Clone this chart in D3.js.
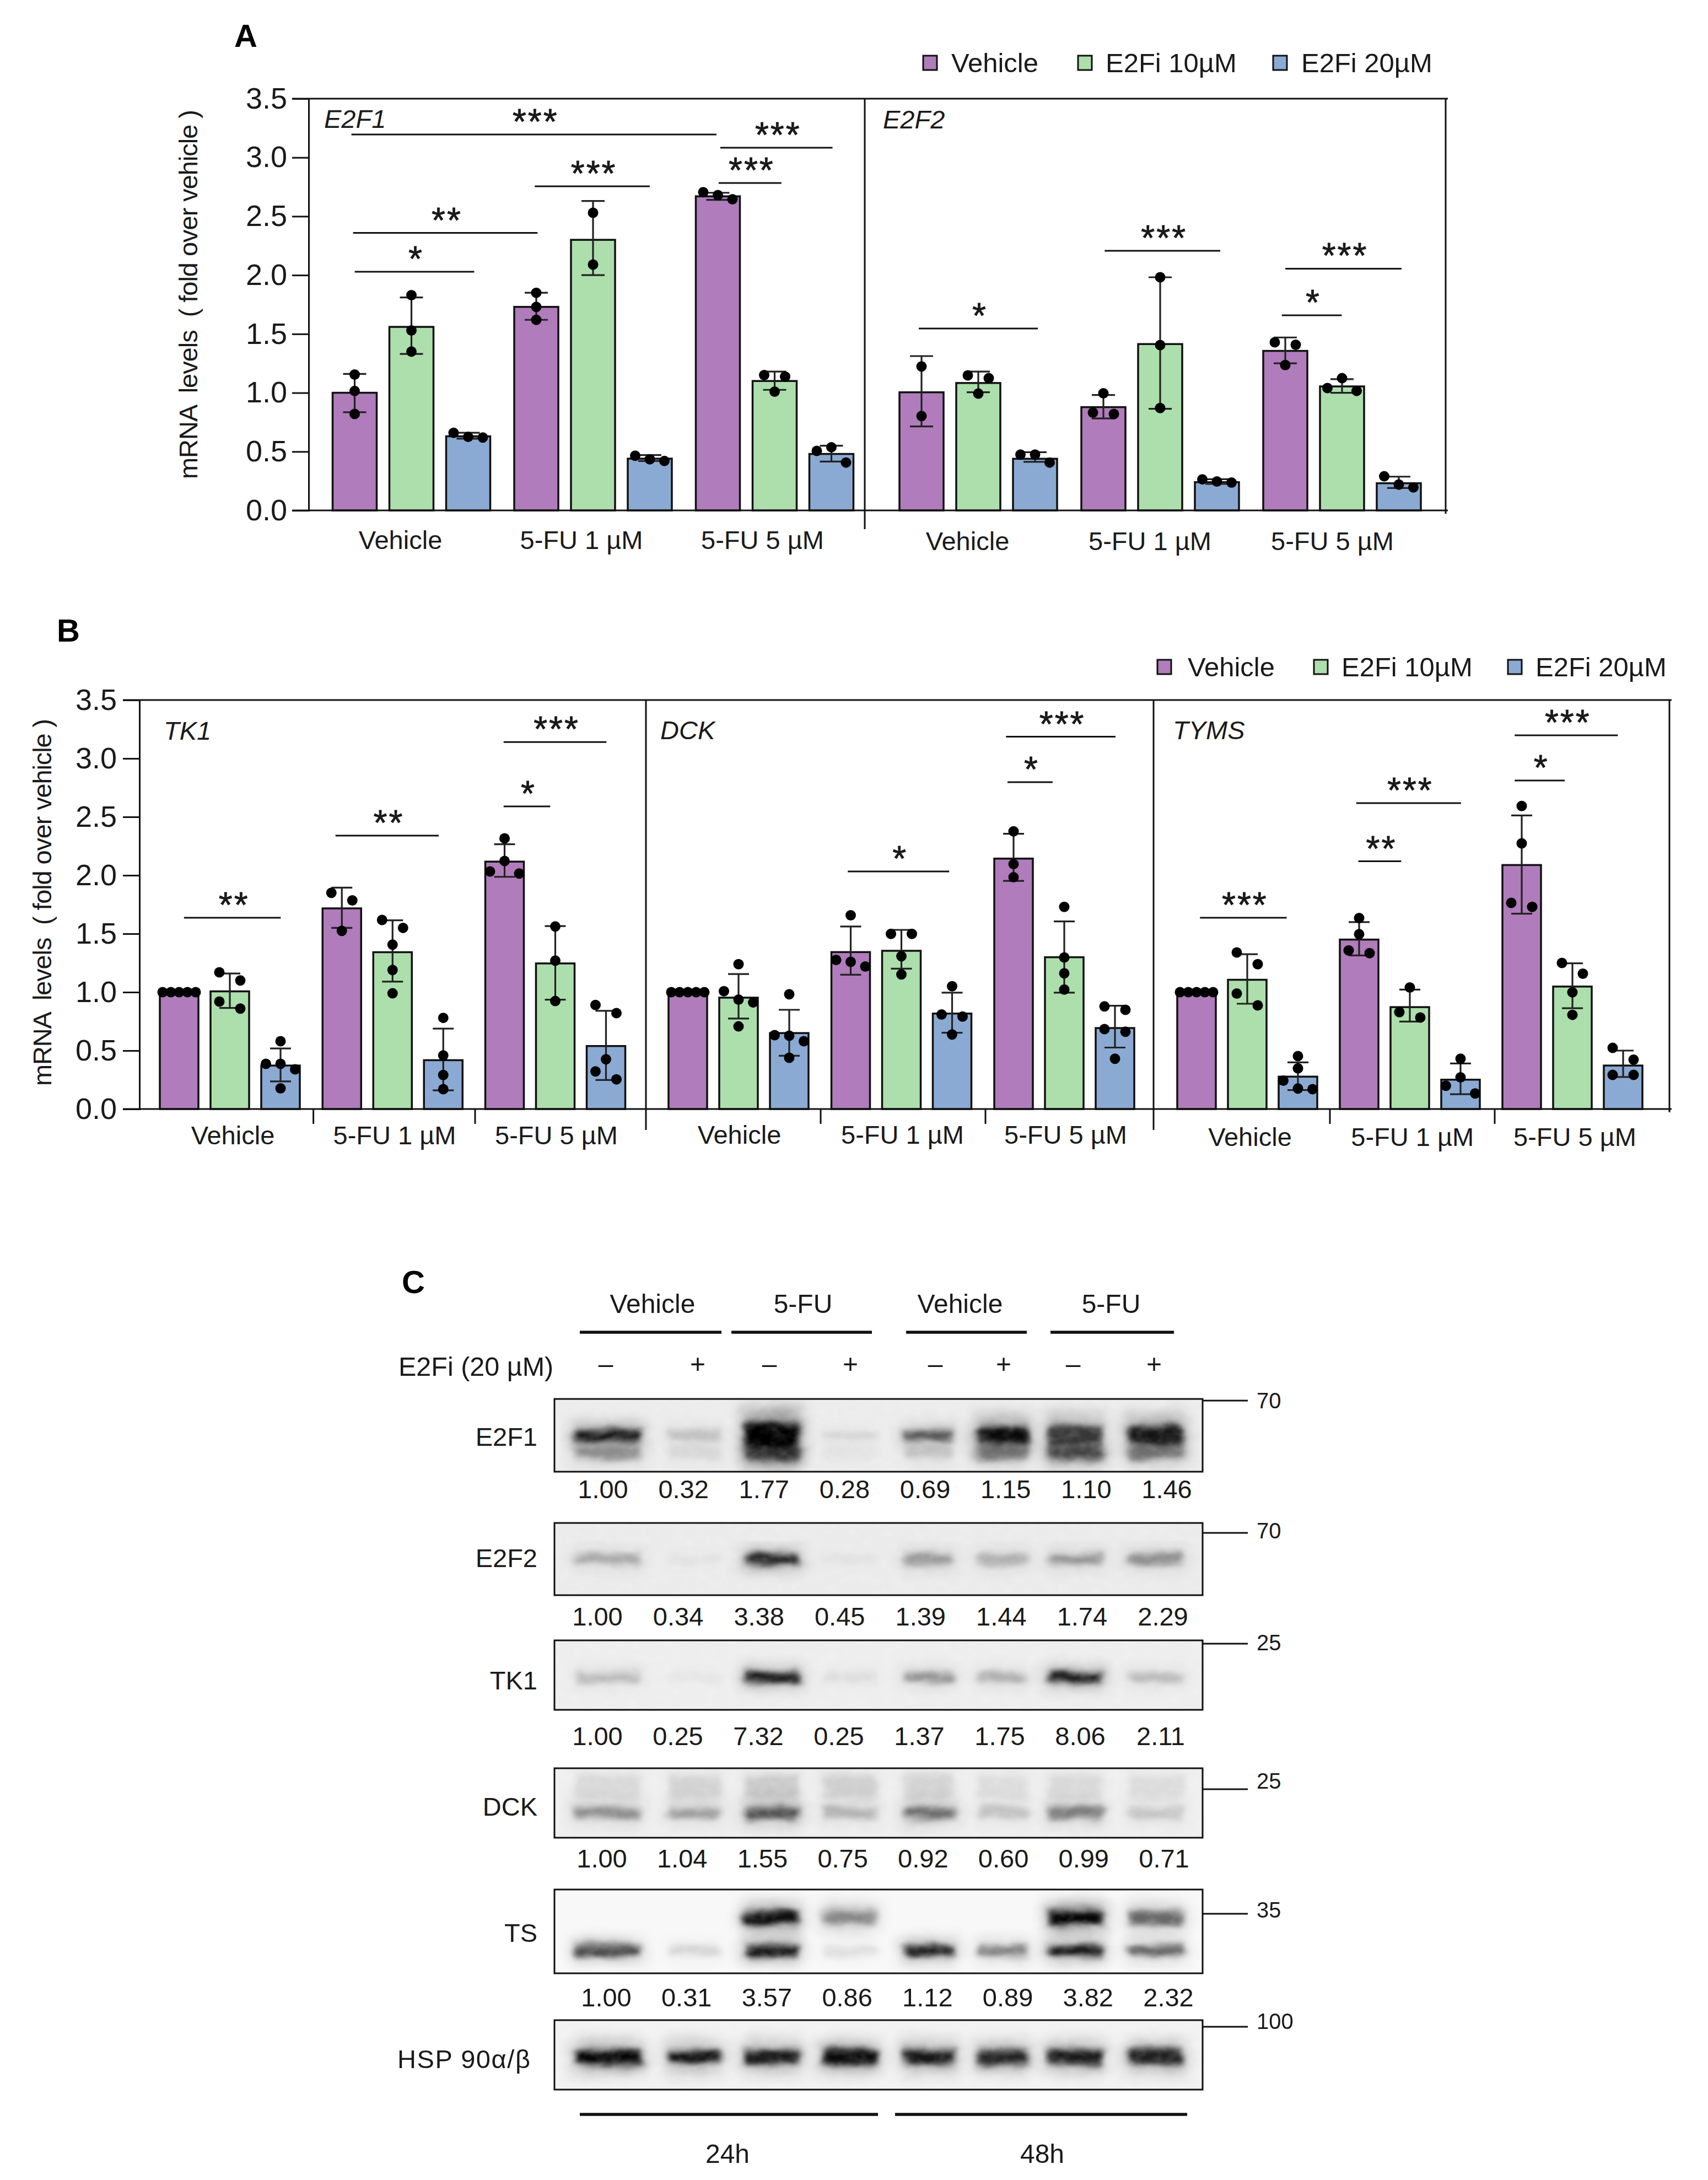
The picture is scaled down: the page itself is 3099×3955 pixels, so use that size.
<!DOCTYPE html>
<html><head><meta charset="utf-8">
<script src="https://cdn.jsdelivr.net/npm/d3@7/dist/d3.min.js"></script>
<style>
html,body{margin:0;padding:0;background:#fff}
svg{display:block}
text{font-family:"Liberation Sans",Arial,sans-serif;fill:#1a1a1a}
</style></head><body><div id="chart"></div>
<script>
// ---------- categories ----------
const groups = ["Vehicle", "5-FU 1 µM", "5-FU 5 µM"];
const seriesNames = ["Vehicle", "E2Fi 10µM", "E2Fi 20µM"];
const seriesColors = ["#B07CBB", "#ADDFAD", "#8BAAD3"];
const yTicks = [0, 0.5, 1, 1.5, 2, 2.5, 3, 3.5];

// ---------- bar data, nine bars per panel: group by group, series by series ----------
const e2f1Means = [1.0, 1.56, 0.63, 1.73, 2.30, 0.44, 2.67, 1.10, 0.48];
const e2f1Upper = [1.16, 1.81, 0.66, 1.85, 2.63, 0.47, 2.70, 1.18, 0.55];
const e2f1Lower = [0.835, 1.33, 0.61, 1.62, 2.0, 0.42, 2.64, 1.025, 0.415];
const e2f1Points = [[1.155, 1.015, 0.82], [1.83, 1.53, 1.35], [0.66, 0.625, 0.62],
  [1.85, 1.73, 1.62], [2.53, 2.09], [0.465, 0.435, 0.42],
  [2.705, 2.68, 2.645], [1.15, 1.137, 1.01], [0.506, 0.537, 0.407]];

const e2f2Means = [1.004, 1.083, 0.439, 0.878, 1.414, 0.24, 1.356, 1.054, 0.231];
const e2f2Upper = [1.312, 1.18, 0.495, 0.981, 1.982, 0.265, 1.47, 1.116, 0.287];
const e2f2Lower = [0.714, 1.004, 0.413, 0.782, 0.864, 0.225, 1.25, 1.0, 0.19];
const e2f2Points = [[1.224, 0.802], [1.148, 1.124, 0.993], [0.474, 0.474, 0.407],
  [0.996, 0.832, 0.82], [1.982, 1.406, 0.87], [0.264, 0.246, 0.237],
  [1.429, 1.408, 1.236], [1.04, 1.124, 1.016], [0.29, 0.22, 0.196]];

const tk1Means = [1.0, 1.007, 0.372, 1.717, 1.342, 0.418, 2.117, 1.246, 0.539];
const tk1Upper = [1.0, 1.16, 0.518, 1.894, 1.615, 0.688, 2.266, 1.565, 0.84];
const tk1Lower = [1.0, 0.865, 0.236, 1.55, 1.09, 0.16, 1.987, 0.936, 0.248];
const tk1Points = [[1, 1, 1, 1, 1], [1.17, 1.10, 0.92, 0.86], [0.58, 0.387, 0.387, 0.34, 0.177],
  [1.85, 1.785, 1.525], [1.618, 1.55, 1.407, 1.19, 0.99], [0.78, 0.459, 0.291, 0.17],
  [2.316, 2.033, 2.123, 2.015], [1.562, 1.27, 0.924], [0.89, 0.821, 0.426, 0.322, 0.254]];

const dckMeans = [1.0, 0.953, 0.65, 1.343, 1.354, 0.817, 2.143, 1.299, 0.693];
const dckUpper = [1.0, 1.155, 0.849, 1.562, 1.533, 0.996, 2.356, 1.606, 0.884];
const dckLower = [1.0, 0.774, 0.456, 1.149, 1.201, 0.653, 1.952, 0.996, 0.526];
const dckPoints = [[1, 1, 1, 1, 1], [1.239, 1.008, 0.936, 0.912, 0.707], [0.982, 0.632, 0.627, 0.58, 0.439],
  [1.658, 1.276, 1.259, 1.219], [1.499, 1.499, 1.308, 1.152], [1.051, 0.809, 0.791, 0.638],
  [2.376, 2.096, 1.984], [1.73, 1.297, 1.161, 1.022], [0.878, 0.849, 0.684, 0.661, 0.43]];

const tymsMeans = [1.0, 1.106, 0.277, 1.45, 0.872, 0.251, 2.088, 1.048, 0.372];
const tymsUpper = [1.0, 1.325, 0.399, 1.6, 1.022, 0.39, 2.512, 1.247, 0.5];
const tymsLower = [1.0, 0.901, 0.162, 1.314, 0.748, 0.127, 1.672, 0.863, 0.274];
const tymsPoints = [[1, 1, 1, 1, 1], [1.34, 1.239, 0.988, 0.887], [0.453, 0.348, 0.243, 0.176, 0.17],
  [1.634, 1.496, 1.357, 1.334], [1.04, 0.829, 0.783], [0.43, 0.199, 0.271, 0.133],
  [2.593, 2.273, 1.764, 1.73], [1.25, 1.158, 0.999, 0.806], [0.523, 0.422, 0.292, 0.292]];

// significance brackets: from, to (share of the panel width), level (y value), label
const e2f1Sig = [[0.077, 0.734, 3.196, "***"], [0.741, 0.943, 3.083, "***"], [0.738, 0.851, 2.783, "***"],
  [0.407, 0.614, 2.755, "***"], [0.080, 0.412, 2.359, "**"], [0.083, 0.298, 2.029, "*"]];
const e2f2Sig = [[0.093, 0.298, 1.546, "*"], [0.413, 0.612, 2.207, "***"], [0.724, 0.924, 2.055, "***"], [0.718, 0.821, 1.659, "*"]];
const tk1Sig = [[0.088, 0.279, 1.637, "**"], [0.387, 0.591, 2.34, "**"], [0.719, 0.922, 3.14, "***"], [0.719, 0.811, 2.59, "*"]];
const dckSig = [[0.397, 0.597, 2.033, "*"], [0.709, 0.925, 3.186, "***"], [0.712, 0.801, 2.797, "*"]];
const tymsSig = [[0.090, 0.258, 1.637, "***"], [0.393, 0.596, 2.618, "***"], [0.397, 0.480, 2.12, "**"],
  [0.700, 0.900, 3.198, "***"], [0.700, 0.797, 2.811, "*"]];

// ---------- western blot data ----------
const blotNames = ["E2F1", "E2F2", "TK1", "DCK", "TS", "HSP 90α/β"];
const e2f1Ratios = ["1.00", "0.32", "1.77", "0.28", "0.69", "1.15", "1.10", "1.46"];
const e2f2Ratios = ["1.00", "0.34", "3.38", "0.45", "1.39", "1.44", "1.74", "2.29"];
const tk1Ratios = ["1.00", "0.25", "7.32", "0.25", "1.37", "1.75", "8.06", "2.11"];
const dckRatios = ["1.00", "1.04", "1.55", "0.75", "0.92", "0.60", "0.99", "0.71"];
const tsRatios = ["1.00", "0.31", "3.57", "0.86", "1.12", "0.89", "3.82", "2.32"];
const laneTreatments = ["–", "+", "–", "+", "–", "+", "–", "+"];
const laneGroups = ["Vehicle", "5-FU", "Vehicle", "5-FU"];
const timeGroups = ["24h", "48h"];
// band darkness per lane
const e2f1BandMain = [0.95, 0.16, 1, 0.08, 0.62, 0.95, 0.68, 0.88];
const e2f1BandLower = [0.3, 0.06, 0.65, 0.03, 0.12, 0.35, 0.6, 0.35];
const e2f2Band = [0.26, 0.03, 0.9, 0.03, 0.33, 0.24, 0.34, 0.38];
const tk1Band = [0.2, 0.03, 1, 0.06, 0.36, 0.25, 1, 0.2];
const dckBandMain = [0.34, 0.28, 0.6, 0.2, 0.48, 0.15, 0.42, 0.14];
const dckBandUpper = [0.07, 0.09, 0.12, 0.1, 0.09, 0.06, 0.07, 0.06];
const tsBandUpper = [0, 0, 0.95, 0.38, 0, 0, 1, 0.52];
const tsBandLower = [0.72, 0.12, 1, 0.08, 0.95, 0.45, 1, 0.58];
const hspBand = [1, 0.9, 0.88, 0.97, 0.9, 0.82, 0.88, 0.85];

// ---------- page ----------
const W = 3099, H = 3955, FONT = 48, INK = "#111";
const svg = d3.select("#chart").append("svg").attr("width", W).attr("height", H).attr("viewBox", [0, 0, W, H]);
svg.append("rect").attr("width", W).attr("height", H).attr("fill", "#fff");
const defs = svg.append("defs");
[["soft", 6], ["wide", 14]].forEach(([id, s]) => {
  defs.append("filter").attr("id", id).attr("x", "-30%").attr("y", "-100%").attr("width", "160%").attr("height", "300%")
    .append("feGaussianBlur").attr("stdDeviation", s);
});
// uneven band edges
const rough = defs.append("filter").attr("id", "rough").attr("filterUnits", "userSpaceOnUse")
  .attr("x", 900).attr("y", 2400).attr("width", 1400).attr("height", 1500);
rough.append("feTurbulence").attr("type", "fractalNoise").attr("baseFrequency", "0.018 0.03").attr("numOctaves", 2).attr("seed", 4).attr("result", "n");
rough.append("feDisplacementMap").attr("in", "SourceGraphic").attr("in2", "n").attr("scale", 14).attr("xChannelSelector", "R").attr("yChannelSelector", "G").attr("result", "d");
rough.append("feGaussianBlur").attr("in", "d").attr("stdDeviation", 1.5);
// film grain
const grain = defs.append("filter").attr("id", "grain").attr("filterUnits", "userSpaceOnUse")
  .attr("x", 900).attr("y", 2400).attr("width", 1400).attr("height", 1500);
grain.append("feTurbulence").attr("type", "fractalNoise").attr("baseFrequency", "0.05 0.07").attr("numOctaves", 2).attr("seed", 9);
grain.append("feColorMatrix").attr("values", "0 0 0 0 1  0 0 0 0 1  0 0 0 0 1  1.6 0 0 0 -0.65");

const label = (g, x, y, t, size = FONT, anchor = "start", extra = {}) => {
  const n = g.append("text").attr("x", x).attr("y", y).attr("font-size", size).attr("text-anchor", anchor)
    .attr("dominant-baseline", "central").text(t);
  Object.entries(extra).forEach(([k, v]) => n.attr(k, v));
  return n;
};
const hline = (g, x1, x2, y, w = 3) => g.append("line").attr("x1", x1).attr("x2", x2).attr("y1", y).attr("y2", y).attr("stroke", INK).attr("stroke-width", w);
const vline = (g, x, y1, y2, w = 3) => g.append("line").attr("x1", x).attr("x2", x).attr("y1", y1).attr("y2", y2).attr("stroke", INK).attr("stroke-width", w);

// horizontal spread of the dots that sit too close to stack (GraphPad style clusters)
const CLUSTER_GAP = 0.103;
const clusterSpan = { 1: 0, 2: 38, 3: 53, 4: 57, 5: 60 };
function swarm(values) {
  const order = values.map((v, i) => ({ v, i })).sort((a, b) => d3.descending(a.v, b.v));
  const out = [];
  let cluster = [];
  const flush = () => {
    const byEntry = cluster.slice().sort((a, b) => a.i - b.i);
    const span = clusterSpan[byEntry.length];
    const off = d3.scalePoint().domain(d3.range(byEntry.length)).range([-span / 2, span / 2]);
    byEntry.forEach((d, k) => out.push({ v: d.v, dx: byEntry.length === 1 ? 0 : off(k) }));
    cluster = [];
  };
  order.forEach((d, i) => {
    if (i && order[i - 1].v - d.v >= CLUSTER_GAP) flush();
    cluster.push(d);
  });
  flush();
  return out;
}

function drawRow(conf) {
  const g = svg.append("g");
  const y = d3.scaleLinear().domain([0, 3.5]).range([conf.base, conf.top]);
  const left = conf.panels[0].x0, right = conf.panels[conf.panels.length - 1].x1;

  conf.panels.forEach(p => {
    const pg = g.append("g");
    const gx = d3.scalePoint().domain(groups).range(p.groupRange);
    const sx = d3.scalePoint().domain(seriesNames).range([-p.step, p.step]);
    const cells = [];
    groups.forEach((gr, gi) => seriesNames.forEach((s, si) => {
      const i = gi * seriesNames.length + si;
      cells.push({ cx: gx(gr) + sx(s), color: seriesColors[si], mean: p.means[i], up: p.upper[i], lo: p.lower[i], pts: p.points[i] });
    }));
    pg.selectAll("rect.bar").data(cells).join("rect").attr("class", "bar")
      .attr("x", d => d.cx - p.barW / 2).attr("width", p.barW)
      .attr("y", d => y(d.mean)).attr("height", d => y(0) - y(d.mean))
      .attr("fill", d => d.color).attr("stroke", INK).attr("stroke-width", 3.5);
    const err = pg.selectAll("g.err").data(cells.filter(d => d.up !== d.lo)).join("g").attr("class", "err")
      .attr("stroke", "#222").attr("stroke-width", 3.2);
    err.append("line").attr("x1", d => d.cx).attr("x2", d => d.cx).attr("y1", d => y(d.up)).attr("y2", d => y(d.lo));
    err.append("line").attr("x1", d => d.cx - p.cap).attr("x2", d => d.cx + p.cap).attr("y1", d => y(d.up)).attr("y2", d => y(d.up));
    err.append("line").attr("x1", d => d.cx - p.cap).attr("x2", d => d.cx + p.cap).attr("y1", d => y(d.lo)).attr("y2", d => y(d.lo));
    cells.forEach(c => {
      pg.selectAll(null).data(swarm(c.pts)).join("circle")
        .attr("cx", d => c.cx + d.dx).attr("cy", d => y(d.v)).attr("r", 9.5).attr("fill", "#000");
    });
    // significance brackets
    const fx = d3.scaleLinear().domain([0, 1]).range([p.x0, p.x1]);
    p.sig.forEach(([a, b, lv, t]) => {
      hline(pg, fx(a), fx(b), y(lv));
      pg.append("text").attr("x", (fx(a) + fx(b)) / 2 + 3).attr("y", y(lv) - 1).attr("text-anchor", "middle")
        .attr("font-size", 64).attr("letter-spacing", 3).attr("stroke", INK).attr("stroke-width", 0.8).text(t);
    });
    // group labels
    const lx = d3.scalePoint().domain(groups).range(p.labelRange);
    const axis = pg.append("g").attr("transform", `translate(0,${p.labelY})`)
      .call(d3.axisBottom(lx).tickSize(0).tickPadding(0));
    axis.select(".domain").remove();
    axis.selectAll("text").attr("font-size", 47).attr("dy", "0.35em").attr("y", 0).attr("font-family", null).style("fill", "#1a1a1a");
    // gene name
    label(pg, p.titleX, p.titleY, p.title, 47, "start", { "font-style": "italic" });
    // separator ticks
    (p.seps || []).forEach(x => vline(pg, x, conf.base, conf.base + 27));
  });

  // frame
  hline(g, left - conf.tickLen, right + 4, conf.top);
  hline(g, left - conf.tickLen, right + 4, conf.base);
  conf.dividers.forEach(x => vline(g, x, conf.top, conf.base + conf.dividerDrop));
  vline(g, right, conf.top, conf.base + 6);

  // y axis
  const ax = g.append("g").attr("transform", `translate(${left},0)`)
    .call(d3.axisLeft(y).tickValues(yTicks).tickFormat(d3.format(".1f")).tickSize(conf.tickLen).tickPadding(conf.tickPad));
  ax.selectAll("path,line").attr("stroke", INK).attr("stroke-width", 3);
  ax.selectAll("text").attr("font-size", 54).attr("font-family", null).style("fill", "#1a1a1a");
  // y title
  g.append("text").attr("transform", `translate(${conf.titleX},${conf.titleY}) rotate(-90)`)
    .attr("text-anchor", "middle").attr("dominant-baseline", "central").attr("font-size", 47)
    .attr("textLength", conf.titleLen).attr("lengthAdjust", "spacing").style("white-space", "pre")
    .text("mRNA  levels  ( fold over vehicle )");
  // legend
  const lg = g.append("g");
  seriesNames.forEach((s, i) => {
    const [sx0, tx] = conf.legend[i];
    lg.append("rect").attr("x", sx0).attr("y", conf.legendY - 13).attr("width", 25).attr("height", 26)
      .attr("fill", seriesColors[i]).attr("stroke", INK).attr("stroke-width", 3);
    label(lg, tx, conf.legendY, s, 49);
  });
}

drawRow({
  top: 179, base: 926, tickLen: 30, tickPad: 9, dividers: [1569], dividerDrop: 34,
  titleX: 341, titleY: 534, titleLen: 670, legendY: 114,
  legend: [[1675, 1726], [1956, 2006], [2310, 2361]],
  panels: [
    { title: "E2F1", titleX: 588, titleY: 215, x0: 560, x1: 1568, groupRange: [746.5, 1405.5], step: 103, barW: 80, cap: 21,
      labelRange: [726, 1383], labelY: 980, means: e2f1Means, upper: e2f1Upper, lower: e2f1Lower, points: e2f1Points, sig: e2f1Sig },
    { title: "E2F2", titleX: 1602, titleY: 216, x0: 1569, x1: 2623, groupRange: [1775, 2435], step: 103, barW: 80, cap: 21,
      labelRange: [1755, 2417], labelY: 982, means: e2f2Means, upper: e2f2Upper, lower: e2f2Lower, points: e2f2Points, sig: e2f2Sig }
  ]
});
drawRow({
  top: 1270, base: 2012, tickLen: 30, tickPad: 11, dividers: [1172, 2093], dividerDrop: 38,
  titleX: 76, titleY: 1637, titleLen: 666, legendY: 1210,
  legend: [[2100, 2155], [2384, 2434], [2736, 2786]],
  panels: [
    { title: "TK1", titleX: 297, titleY: 1325, x0: 253, x1: 1172, groupRange: [417, 1007.5], step: 92, barW: 70, cap: 19, seps: [568.6, 862],
      labelRange: [422, 1009], labelY: 2060, means: tk1Means, upper: tk1Upper, lower: tk1Lower, points: tk1Points, sig: tk1Sig },
    { title: "DCK", titleX: 1198, titleY: 1324, x0: 1173, x1: 2093, groupRange: [1340, 1931], step: 92, barW: 70, cap: 19, seps: [1489, 1788],
      labelRange: [1341, 1933], labelY: 2059, means: dckMeans, upper: dckUpper, lower: dckLower, points: dckPoints, sig: dckSig },
    { title: "TYMS", titleX: 2128, titleY: 1324, x0: 2093, x1: 3029, groupRange: [2263, 2853], step: 92, barW: 70, cap: 19, seps: [2413, 2712],
      labelRange: [2267.5, 2857], labelY: 2063, means: tymsMeans, upper: tymsUpper, lower: tymsLower, points: tymsPoints, sig: tymsSig }
  ]
});

// panel letters
[["A", 425, 85], ["B", 103, 1164], ["C", 729, 2346]].forEach(([t, x, yy]) => {
  svg.append("text").attr("x", x).attr("y", yy).attr("font-size", 58).attr("font-weight", "bold").style("fill", "#000").text(t);
});

// ---------- panel C ----------
const c = svg.append("g");
const laneKeys = d3.range(8);
const laneX = d3.scaleOrdinal().domain(laneKeys).range([1103, 1260, 1401, 1542, 1685, 1819, 1951, 2097]);
const laneW = d3.scaleOrdinal().domain(laneKeys).range([128, 105, 108, 108, 100, 100, 108, 110]);
const BOX = { x0: 1006, x1: 2182 };
const blots = [
  { name: blotNames[0], y0: 2538, y1: 2670, bg: "#ececec", ly: 2606, ratios: e2f1Ratios, rRange: [1094, 2117], rY: 2701, mw: 70, mY: 2541, mLabelY: 2541,
    bands: [{ pos: 0.74, thick: 24, vals: e2f1BandLower }, { pos: 0.5, thick: [18, 18, 46, 14, 16, 32, 36, 34], vals: e2f1BandMain }] },
  { name: blotNames[1], y0: 2763, y1: 2894, bg: "#ebebeb", ly: 2826, ratios: e2f2Ratios, rRange: [1084, 2110], rY: 2932, mw: 70, mY: 2781, mLabelY: 2777,
    bands: [{ pos: 0.5, thick: 16, vals: e2f2Band }] },
  { name: blotNames[2], y0: 2976, y1: 3102, bg: "#eeeeee", ly: 3048, ratios: tk1Ratios, rRange: [1084, 2106], rY: 3149, mw: 25, mY: 2982, mLabelY: 2980,
    bands: [{ pos: 0.53, thick: 15, vals: tk1Band }] },
  { name: blotNames[3], y0: 3208, y1: 3334, bg: "#efefef", ly: 3277, ratios: dckRatios, rRange: [1092, 2112], rY: 3371, mw: 25, mY: 3246, mLabelY: 3231,
    bands: [{ pos: 0.27, thick: 42, vals: dckBandUpper }, { pos: 0.64, thick: 20, vals: dckBandMain }] },
  { name: blotNames[4], y0: 3428, y1: 3580, bg: "#f8f8f8", ly: 3506, ratios: tsRatios, rRange: [1100, 2120], rY: 3623, mw: 35, mY: 3472, mLabelY: 3465,
    bands: [{ pos: 0.337, thick: 24, vals: tsBandUpper }, { pos: 0.73, thick: 16, vals: tsBandLower }] },
  { name: blotNames[5], y0: 3665, y1: 3791, bg: "#f2f2f2", ly: 3735, ratios: null, mw: 100, mY: 3677, mLabelY: 3667,
    bands: [{ pos: 0.53, thick: 24, vals: hspBand }] }
];
blots.forEach((b, i) => {
  const id = "clip" + i;
  defs.append("clipPath").attr("id", id).append("rect").attr("x", BOX.x0).attr("y", b.y0).attr("width", BOX.x1 - BOX.x0).attr("height", b.y1 - b.y0);
  c.append("rect").attr("x", BOX.x0).attr("y", b.y0).attr("width", BOX.x1 - BOX.x0).attr("height", b.y1 - b.y0).attr("fill", b.bg);
  const clip = c.append("g").attr("clip-path", `url(#${id})`);
  const inner = clip.append("g").attr("filter", "url(#rough)");
  const by = d3.scaleLinear().domain([0, 1]).range([b.y0, b.y1]);
  b.bands.forEach(row => {
    const cells = row.vals.map((v, k) => ({ v, k, t: Array.isArray(row.thick) ? row.thick[k] : row.thick })).filter(d => d.v > 0);
    inner.selectAll(null).data(cells).join("rect")
      .attr("x", d => laneX(d.k) - laneW(d.k) / 2).attr("width", d => laneW(d.k))
      .attr("y", d => by(row.pos) - d.t * 1.1).attr("height", d => d.t * 2.2)
      .attr("fill", "#000").attr("opacity", d => d.v * 0.32).attr("filter", "url(#wide)");
    inner.selectAll(null).data(cells).join("rect")
      .attr("x", d => laneX(d.k) - laneW(d.k) / 2 + 5).attr("width", d => laneW(d.k) - 10)
      .attr("y", d => by(row.pos) - d.t / 2).attr("height", d => d.t)
      .attr("fill", "#000").attr("opacity", d => d.v).attr("filter", "url(#soft)");
  });
  clip.append("rect").attr("x", BOX.x0).attr("y", b.y0).attr("width", BOX.x1 - BOX.x0).attr("height", b.y1 - b.y0)
    .attr("fill", "#fff").attr("opacity", 0.18).attr("filter", "url(#grain)");
  c.append("rect").attr("x", BOX.x0).attr("y", b.y0).attr("width", BOX.x1 - BOX.x0).attr("height", b.y1 - b.y0)
    .attr("fill", "none").attr("stroke", INK).attr("stroke-width", 3);
  const isHsp = b.name === "HSP 90α/β";
  const nameText = label(c, isHsp ? 962 : 975, b.ly, b.name, 47, "end");
  if (isHsp) nameText.attr("textLength", 241).attr("lengthAdjust", "spacing");
  if (b.ratios) {
    const rx = d3.scalePoint().domain(laneKeys).range(b.rRange);
    c.selectAll(null).data(b.ratios).join("text")
      .attr("x", (d, k) => rx(k)).attr("y", b.rY).attr("font-size", 47).attr("text-anchor", "middle").attr("dominant-baseline", "central").text(d => d);
  }
  hline(c, BOX.x1, 2264, b.mY);
  label(c, 2280, b.mLabelY, b.mw, 40);
});
// top annotation
[[1052, 1309, 1184], [1327, 1582, 1457], [1644, 1863, 1742], [1906, 2130, 2016]].forEach((r, i) => {
  hline(c, r[0], r[1], 2417, 5.5);
  label(c, r[2], 2365, laneGroups[i], FONT, "middle");
});
label(c, 723, 2479, "E2Fi (20 µM)", 48.5);
const treatX = d3.scaleOrdinal().domain(laneKeys).range([1099, 1266, 1396, 1543, 1697, 1821, 1947, 2094]);
c.selectAll(null).data(laneTreatments).join("text")
  .attr("x", (d, k) => treatX(k)).attr("y", 2474).attr("font-size", FONT).attr("text-anchor", "middle").attr("dominant-baseline", "central").text(d => d);
// bottom annotation
[[1052, 1593, 1320], [1624, 2154, 1891]].forEach((r, i) => {
  hline(c, r[0], r[1], 3836, 5.5);
  label(c, r[2], 3907, timeGroups[i], FONT, "middle");
});
</script></body></html>
